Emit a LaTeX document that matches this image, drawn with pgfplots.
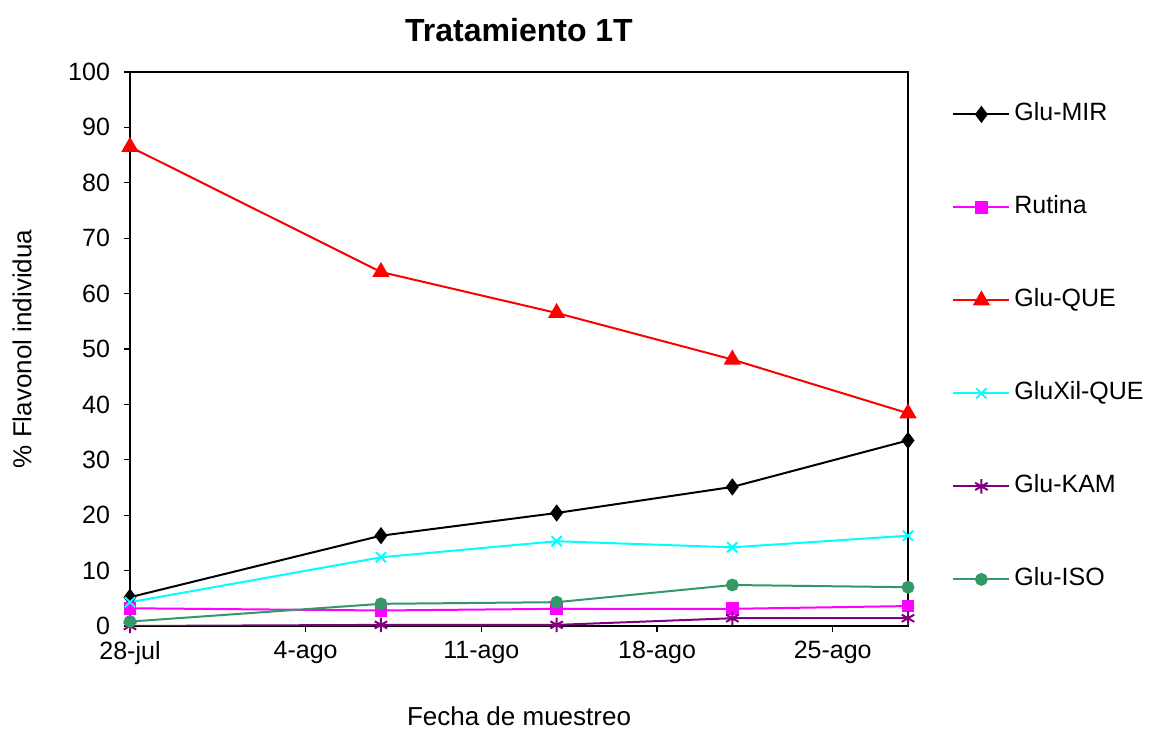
\documentclass[border=0pt]{standalone}
\usepackage{fontspec}
\setmainfont{Liberation Sans}
\usepackage{pgfplots}
\pgfplotsset{compat=1.18}
\definecolor{isogreen}{RGB}{51,153,102}
\definecolor{kampurple}{RGB}{128,0,128}
\definecolor{mag}{RGB}{255,0,255}
\definecolor{cyn}{RGB}{0,255,255}
\begin{document}
\begin{tikzpicture}
\begin{axis}[
  scale only axis,
  width=389pt, height=277pt,
  xmin=0, xmax=31, ymin=0, ymax=100,
  xtick={0,7,14,21,28},
  xticklabels={28-jul,4-ago,11-ago,18-ago,25-ago},
  ytick={0,10,...,100},
  xtick pos=left, ytick pos=left,
  tick align=outside,
  major tick length=3pt,
  axis line style={line width=0.8pt},
  every tick/.style={black, line width=0.6pt},
  /pgf/number format/assume math mode=true,
  tick label style={font=\fontsize{12.5}{14}\selectfont},
  yticklabel style={xshift=-3.5pt},
  xticklabel style={yshift=-1pt},
  title={\bfseries Tratamiento 1T},
  title style={font=\fontsize{16}{18}\selectfont, at={(0.5,1)}, anchor=base, yshift=9pt},
  xlabel={Fecha de muestreo},
  ylabel={\% Flavonol individua},
  label style={font=\fontsize{13}{15}\selectfont},
  xlabel style={at={(0.5,0)}, anchor=center, yshift=-45pt},
  ylabel style={at={(0,0.5)}, anchor=center, yshift=54pt},
  legend style={draw=none, at={(1,1)}, anchor=north west, xshift=22pt, yshift=-15.75pt,
    inner sep=0pt, row sep=36pt, font=\fontsize{12.5}{14}\selectfont,
    nodes={text height=8.5pt, text depth=2pt, inner sep=0pt}},
  legend cell align=left,
  legend image code/.code={\draw[mark repeat=2, mark phase=2, #1] plot coordinates {(0pt,0pt) (14pt,0pt) (28pt,0pt)};},
  every axis plot/.append style={line width=1pt},
]
\addplot[black, mark=diamond*, mark size=3.5pt, mark options={solid, fill=black}] coordinates {(0,5.2) (10,16.3) (17,20.4) (24,25.1) (31,33.5)};
\addlegendentry{\hspace{2pt}Glu-MIR}
\addplot[mag, mark=square*, mark size=2.7pt, mark options={solid, fill=mag}] coordinates {(0,3.2) (10,2.8) (17,3.1) (24,3.1) (31,3.6)};
\addlegendentry{\hspace{2pt}Rutina}
\addplot[red, mark=triangle*, mark size=4pt, mark options={solid, fill=red}] coordinates {(0,86.5) (10,63.9) (17,56.5) (24,48.1) (31,38.4)};
\addlegendentry{\hspace{2pt}Glu-QUE}
\addplot[cyn, mark=x, mark size=3.6pt, mark options={solid}] coordinates {(0,4.3) (10,12.4) (17,15.3) (24,14.2) (31,16.3)};
\addlegendentry{\hspace{2pt}GluXil-QUE}
\addplot[kampurple, mark=asterisk, mark size=3.6pt, mark options={solid}] coordinates {(0,0.0) (10,0.2) (17,0.2) (24,1.4) (31,1.4)};
\addlegendentry{\hspace{2pt}Glu-KAM}
\addplot[isogreen, mark=*, mark size=2.7pt, mark options={solid, fill=isogreen}] coordinates {(0,0.8) (10,4.0) (17,4.3) (24,7.4) (31,7.0)};
\addlegendentry{\hspace{2pt}Glu-ISO}
\coordinate (BL) at (rel axis cs:0,0);
\coordinate (TR) at (rel axis cs:1,1);
\end{axis}
\pgfresetboundingbox
\path[use as bounding box] ([xshift=-65pt,yshift=-52.5pt]BL) rectangle ([xshift=123.5pt,yshift=36pt]TR);
\end{tikzpicture}
\end{document}
